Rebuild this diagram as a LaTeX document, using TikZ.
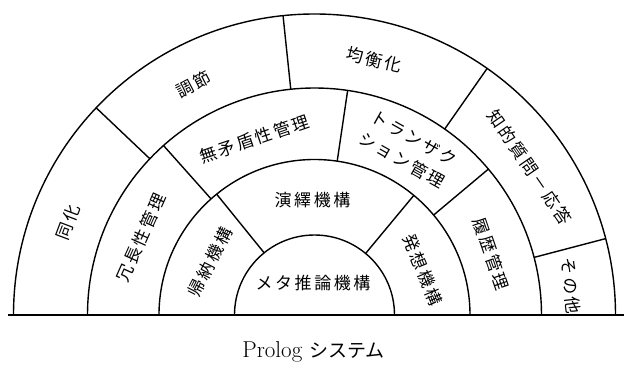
\documentclass[tikz,border=0pt]{standalone}
\usepackage{fontspec}
\newfontfamily\cjk[LetterSpace=15]{Noto Sans CJK JP}
\newfontfamily\cjkplain{Noto Sans CJK JP}
\begin{document}
\begin{tikzpicture}[x=1pt,y=1pt,
  ring/.style={line width=1.4pt},
  divider/.style={line width=1.4pt},
  baseline rule/.style={line width=1.8pt},
  lbl/.style={font=\cjk\fontsize{17}{25}\selectfont, inner sep=0pt}]
\useasboundingbox (-314.5,-52) rectangle (309.5,315);
\fill[white] (-314.5,-52) rectangle (309.5,315);
% arcs
\foreach \r in {80,155.5,227,301}
  \draw[ring] (\r,0) arc[start angle=0, end angle=180, radius=\r];
% base line
\coordinate (bl) at (-306.5,0);
\coordinate (br) at (309.5,0);
\draw[baseline rule] (bl) -- (br);
% dividers ring 4
\foreach \a in {136.5,96,55,14.7}
  \draw[divider] (\a:227) -- (\a:301);
% dividers ring 3
\foreach \a in {131.7,81.6,40}
  \draw[divider] (\a:155.5) -- (\a:227);
% dividers ring 2
\foreach \a in {129,50.3}
  \draw[divider] (\a:80) -- (\a:155.5);
% labels
\node[lbl] (meta) at (-1.5,32) {メタ推論機構};
\node[lbl] (enn) at (-2,115) {演繹機構};
\node[lbl, rotate=63] (kino) at (153:117) {帰納機構};
\node[lbl, rotate=-67.5] (hasso) at (22.5:117) {発想機構};
\node[lbl, rotate=66] (jocho) at (156:190) {冗長性管理};
\node[lbl, rotate=18.8] (mujun) at (108.8:186) {無矛盾性管理};
\node[lbl, rotate=-29.4, align=left] (trans) at (60.6:190) {トランザク\\ション管理};
\node[lbl, rotate=-71] (rireki) at (19:187) {履歴管理};
\node[lbl, rotate=69.3] (doka) at (159.3:263) {同化};
\node[lbl, rotate=27.7] (chosetsu) at (117.7:261) {調節};
\node[lbl, rotate=-13] (kinko) at (76.9:262) {均衡化};
\node[lbl, rotate=-55.5] (chiteki) at (34.5:261) {知的質問－応答};
\node[lbl, rotate=-83.5] (sonota) at (6.5:258) {その他};
\node[inner sep=0pt] (prolog) at (-1,-37) {\fontsize{23}{26}\selectfont Prolog {\cjkplain\fontsize{19}{22}\selectfont システム}};
\end{tikzpicture}
\end{document}
